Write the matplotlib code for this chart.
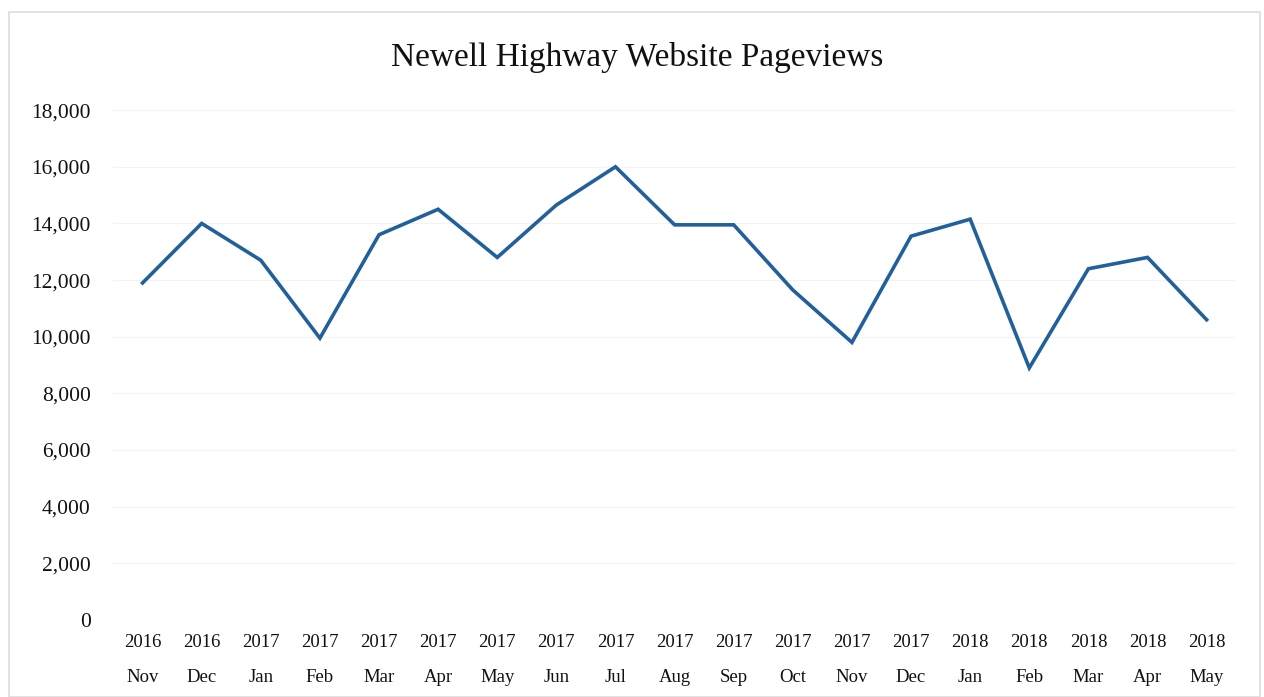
import numpy as np
import matplotlib
matplotlib.use("Agg")
import matplotlib.pyplot as plt
from matplotlib.patches import Rectangle

### Data.

years = ['2016', '2016', '2017', '2017', '2017', '2017', '2017', '2017', '2017', '2017',
         '2017', '2017', '2017', '2017', '2018', '2018', '2018', '2018', '2018']
months = ['Nov', 'Dec', 'Jan', 'Feb', 'Mar', 'Apr', 'May', 'Jun', 'Jul', 'Aug',
          'Sep', 'Oct', 'Nov', 'Dec', 'Jan', 'Feb', 'Mar', 'Apr', 'May']
pageviews = [11900, 14000, 12700, 9950, 13600, 14500, 12800, 14650, 16000, 13950,
             13950, 11650, 9800, 13550, 14150, 8900, 12400, 12800, 10600]
y_ticks = np.arange(0, 18001, 2000)

### Figure parameters.

plt.rcParams['font.family'] = ['Liberation Serif', 'DejaVu Serif']

fig = plt.figure(figsize=(12.64, 6.97), dpi=100)
ax = fig.add_axes([0.0894, 0.1105, 0.8886, 0.7315])

x = np.arange(len(months))
ax.plot(x, pageviews, color='#22609C', linewidth=2.6, solid_joinstyle='miter')

ax.set_xlim(-0.5, len(months) - 0.5)
ax.set_ylim(0, 18000)
ax.set_yticks(y_ticks)
ax.set_yticklabels(['{:,}'.format(v) for v in y_ticks], fontsize=15.5, color='#111111')
ax.set_xticks(x)
ax.set_xticklabels([y + '\n' + m for y, m in zip(years, months)],
                   fontsize=13.5, linespacing=2.4, color='#111111')
ax.tick_params(axis='both', length=0)
ax.tick_params(axis='y', pad=16)
ax.tick_params(axis='x', pad=10)

ax.grid(axis='y', color='#f3f3f3', linewidth=0.8)
ax.set_axisbelow(True)
for s in ax.spines.values():
    s.set_visible(False)

fig.text(0.504, 0.918, 'Newell Highway Website Pageviews', ha='center', va='center',
         fontsize=24, color='#111111')

# light frame round the chart
fig.patches.append(Rectangle((0.007, 0.0), 0.99, 0.983, transform=fig.transFigure,
                             fill=False, edgecolor='#dddddd', linewidth=1.2))

fig.savefig('out.png', dpi=100)
